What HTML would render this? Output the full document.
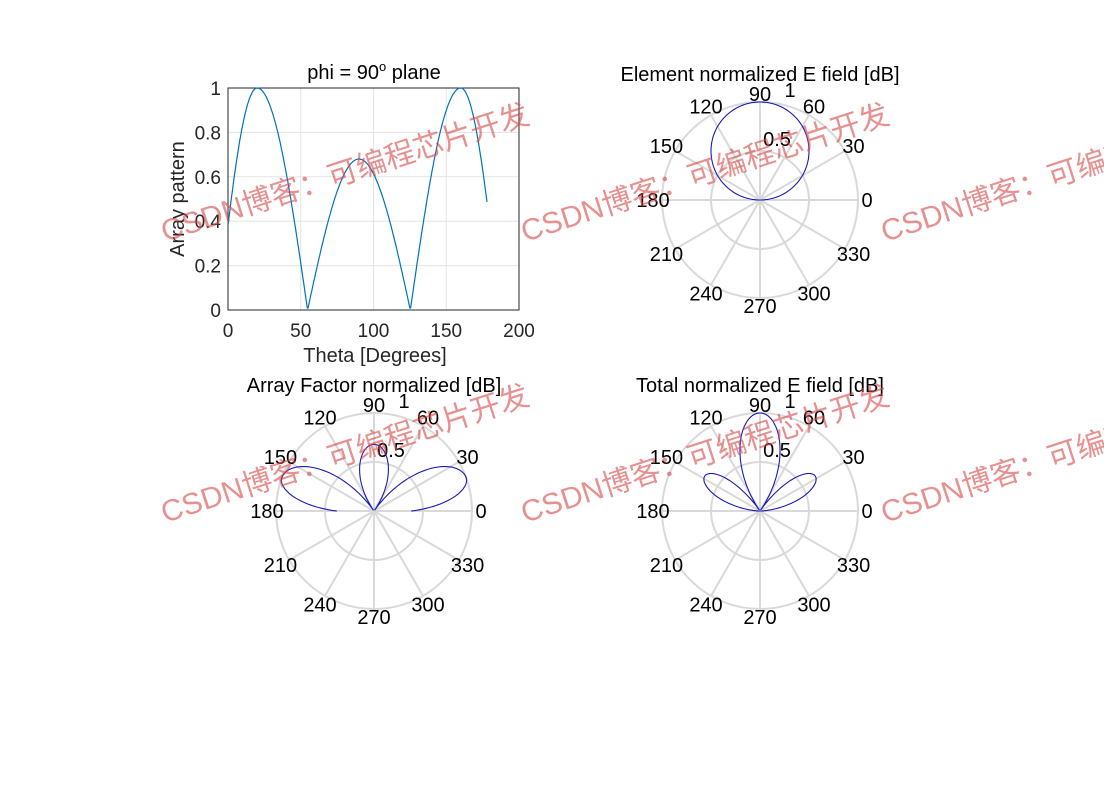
<!DOCTYPE html>
<html><head><meta charset="utf-8"><style>
body{margin:0;background:#fff;}
svg text{font-family:"Liberation Sans","Noto Sans CJK SC",sans-serif;}
</style></head><body>
<svg id="s" width="1104" height="797" xmlns="http://www.w3.org/2000/svg">
<rect width="1104" height="797" fill="#fff"/>
<g id="g"></g>
</svg>
<script>
const NS="http://www.w3.org/2000/svg";const g=document.getElementById('g');
function el(t,a,txt){const e=document.createElementNS(NS,t);for(const k in a)e.setAttribute(k,a[k]);if(txt!==undefined)e.textContent=txt;g.appendChild(e);return e;}
function AF(t){
 if(t>90)t=180-t;
 if(t<=54.7){ if(t<20) return Math.cos((20-t)/20*Math.acos(0.38)); return Math.cos((t-20)/34.7*Math.PI/2);}
 return 0.68*Math.sin(Math.PI*(t-54.7)/70.6);
}
const X0=228,X1=519,Y0=310,Y1=88;
for(let i=0;i<=4;i++){const x=X0+(X1-X0)*i/4;el('line',{x1:x,y1:Y1,x2:x,y2:Y0,stroke:'#e3e3e3'});}
for(let i=0;i<=5;i++){const y=Y0-(Y0-Y1)*i/5;el('line',{x1:X0,y1:y,x2:X1,y2:y,stroke:'#e3e3e3'});}
el('rect',{x:X0,y:Y1,width:X1-X0,height:Y0-Y1,fill:'none',stroke:'#262626','stroke-width':1});
let d='';for(let t=0;t<=178;t+=0.5){const x=X0+(X1-X0)*t/200,y=Y0-(Y0-Y1)*AF(t);d+=(t?'L':'M')+x.toFixed(1)+','+y.toFixed(1);}
el('path',{d:d,fill:'none',stroke:'#0072BD','stroke-width':1.2});
['0','50','100','150','200'].forEach((s,i)=>el('text',{x:X0+(X1-X0)*i/4,y:337,'font-size':19,'text-anchor':'middle',fill:'#262626'},s));
['0','0.2','0.4','0.6','0.8','1'].forEach((s,i)=>el('text',{x:221,y:Y0-(Y0-Y1)*i/5+7,'font-size':19,'text-anchor':'end',fill:'#262626'},s));
el('text',{x:375,y:362,'font-size':20,'text-anchor':'middle',fill:'#262626'},'Theta [Degrees]');
el('text',{x:184,y:199,'font-size':20,'text-anchor':'middle',fill:'#262626',transform:'rotate(-90 184 199)'},'Array pattern');
const tt=el('text',{x:374,y:79,'font-size':20,'text-anchor':'middle',fill:'#000'});tt.innerHTML='phi = 90<tspan dy="-8" font-size="13">o</tspan><tspan dy="8"> plane</tspan>';
function polar(cx,cy,title,f){
 const R=98;
 el('circle',{cx:cx,cy:cy,r:R,fill:'none',stroke:'#d9d9d9','stroke-width':2});
 el('circle',{cx:cx,cy:cy,r:R/2,fill:'none',stroke:'#d9d9d9','stroke-width':2});
 for(let a=0;a<180;a+=30){const r=a*Math.PI/180;el('line',{x1:cx+R*Math.cos(r),y1:cy-R*Math.sin(r),x2:cx-R*Math.cos(r),y2:cy+R*Math.sin(r),stroke:'#d9d9d9','stroke-width':2});}
 for(let a=0;a<360;a+=30){const r=a*Math.PI/180;const L=a%180==0?107:(a%90==0?106:108);el('text',{x:cx+L*Math.cos(r),y:cy-L*Math.sin(r)+7,'font-size':20,'text-anchor':'middle',fill:'#000'},String(a));}
 el('text',{x:cx+30,y:cy-103,'font-size':20,'text-anchor':'middle',fill:'#000'},'1');
 el('text',{x:cx+17,y:cy-54,'font-size':20,'text-anchor':'middle',fill:'#000'},'0.5');
 let d='';for(let t=0;t<=180;t+=0.5){const v=f(t)*R,r=t*Math.PI/180;d+=(t?'L':'M')+(cx+v*Math.cos(r)).toFixed(1)+','+(cy-v*Math.sin(r)).toFixed(1);}
 el('path',{d:d,fill:'none',stroke:'#1a1ab8','stroke-width':1.1});
 el('text',{x:cx,y:cy-119,'font-size':20,'text-anchor':'middle',fill:'#000'},title);
}
polar(760,200,'Element normalized E field [dB]',t=>Math.sin(t*Math.PI/180));
polar(374,511,'Array Factor normalized [dB]',AF);
polar(760,511,'Total normalized E field [dB]',t=>Math.sin(t*Math.PI/180)*AF(t)/0.68);
[[165,242],[525,242],[885,242],[165,523],[525,523],[885,523]].forEach(p=>{
 el('text',{x:p[0],y:p[1],'font-size':30,fill:'rgba(215,70,70,0.6)',transform:`rotate(-18 ${p[0]} ${p[1]})`},'CSDN博客：可编程芯片开发');
});
</script>
</body></html>
